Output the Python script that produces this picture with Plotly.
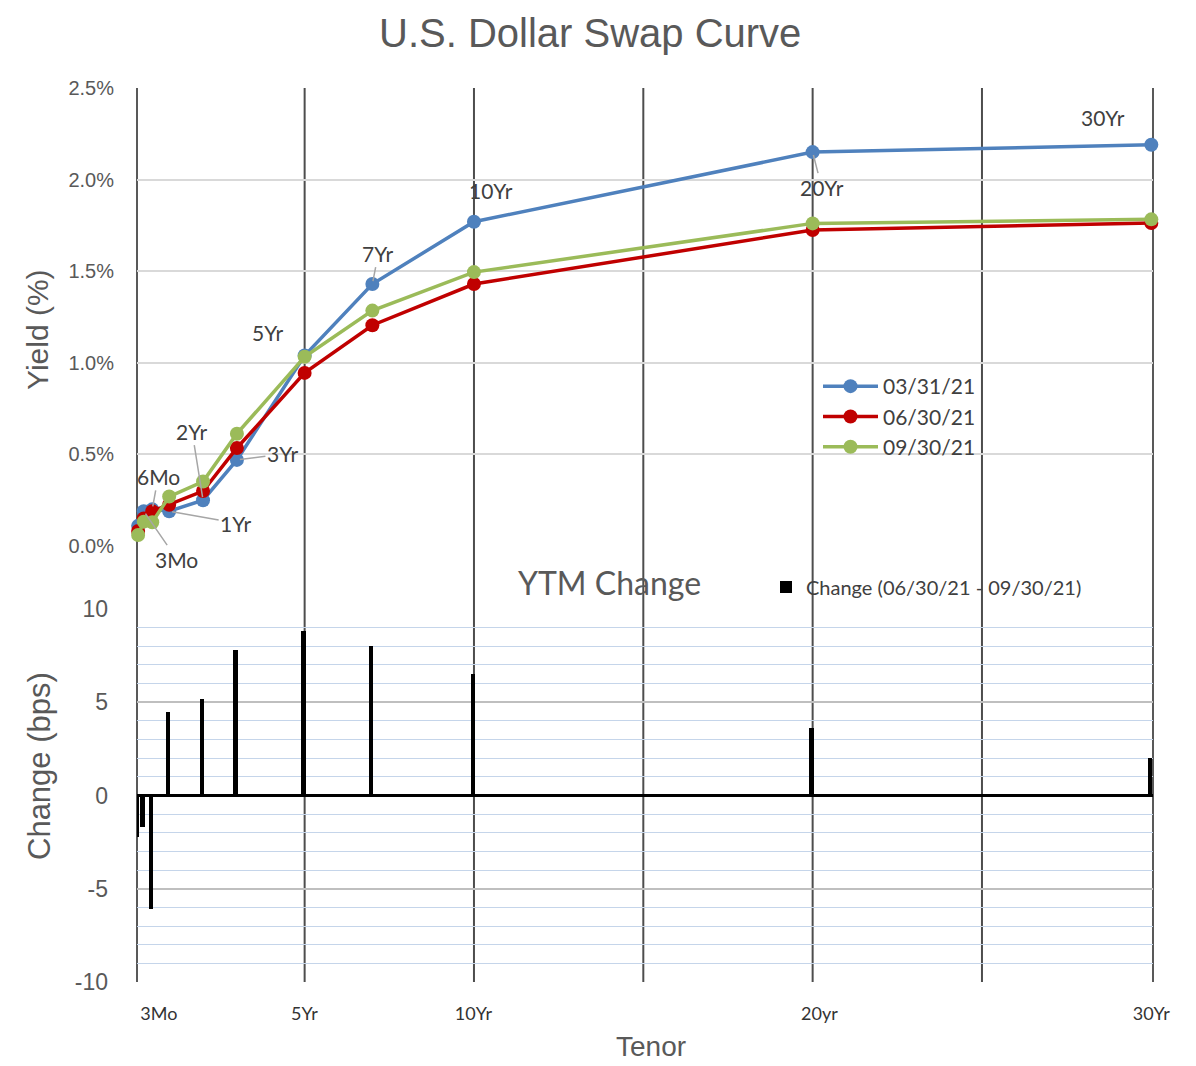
import plotly.graph_objects as go

# ---------------------------------------------------------------- data
tenor_years = [1 / 12, 0.25, 0.5, 1, 2, 3, 5, 7, 10, 20, 30]
tenor_labels = ["1Mo", "3Mo", "6Mo", "1Yr", "2Yr", "3Yr", "5Yr", "7Yr", "10Yr", "20Yr", "30Yr"]

curve_dates = ["03/31/21", "06/30/21", "09/30/21"]
yield_0331 = [0.11, 0.19, 0.20, 0.19, 0.25, 0.47, 1.04, 1.43, 1.77, 2.15, 2.19]
yield_0630 = [0.082, 0.15, 0.19, 0.225, 0.30, 0.535, 0.945, 1.205, 1.43, 1.725, 1.763]
yield_0930 = [0.06, 0.133, 0.13, 0.27, 0.352, 0.613, 1.033, 1.285, 1.495, 1.761, 1.783]

change_name = "Change (06/30/21 - 09/30/21)"
change_bps = [-2.2, -1.7, -6.1, 4.5, 5.2, 7.8, 8.8, 8.0, 6.5, 3.6, 2.0]

bottom_tick_text = ["3Mo", "5Yr", "10Yr", "20yr", "30Yr"]
bottom_tick_vals = [0.73, 5.03, 10.02, 20.24, 30.04]

change_tick_vals = [-10, -5, 0, 5, 10]
change_tick_text = ["-10", "-5", "0", "5", "10"]

# ---------------------------------------------------------------- styling
W, H = 1196, 1066
X_L, X_R = 137, 1153          # plot area, left/right (px)
TOP_T, TOP_B = 88, 546        # yield panel, top/bottom (px)
BOT_T, BOT_B = 609, 982       # change panel, top/bottom (px)

ARIAL = "Liberation Sans, Arial, sans-serif"
CALIBRI = "Lato, Open Sans, sans-serif"
GREY_TXT = "#595959"
DARK_TXT = "#404040"
SERIES_COLORS = ["#4f81bd", "#c00000", "#9bbb59"]

# pixel offsets (label centre relative to its point) for the tenor callouts
label_offsets = {
    "3Mo": (33, 48), "6Mo": (6, -33), "1Yr": (67, 12), "2Yr": (-11, -69),
    "3Yr": (46, -6), "5Yr": (-37, -23), "7Yr": (6, -31), "10Yr": (17, -31),
    "20Yr": (9, 35), "30Yr": (-48, -27),
}
leader_visible = {"3Mo", "6Mo", "1Yr", "2Yr", "3Yr", "7Yr", "20Yr"}


def px(v):
    return v / W


def py(v):
    return 1 - v / H


fig = go.Figure()

for name, ys, col in zip(curve_dates, [yield_0331, yield_0630, yield_0930], SERIES_COLORS):
    fig.add_trace(go.Scatter(
        x=tenor_years, y=ys, name=name, mode="lines+markers",
        line=dict(color=col, width=3.5),
        marker=dict(color=col, size=14),
        cliponaxis=False,
        xaxis="x", yaxis="y", legend="legend",
    ))

fig.add_trace(go.Bar(
    x=tenor_years, y=change_bps, name=change_name, width=0.13,
    marker=dict(color="black", line=dict(width=0)),
    xaxis="x2", yaxis="y2", legend="legend2",
))

# vertical grid lines running through both panels
shapes = []
for v in [5, 10, 15, 20, 25]:
    shapes.append(dict(type="line", xref="x", yref="paper", x0=v, x1=v,
                       y0=py(BOT_B), y1=py(TOP_T),
                       line=dict(color="#4d4d4d", width=2), layer="between"))
for edge in [0, 1]:
    shapes.append(dict(type="line", xref="x domain", yref="paper", x0=edge, x1=edge,
                       y0=py(BOT_B), y1=py(TOP_T),
                       line=dict(color="#595959", width=2), layer="between"))


def text_note(text, x, y, font, angle=0):
    return dict(text=text, x=px(x), y=py(y), xref="paper", yref="paper",
                xanchor="center", yanchor="middle", textangle=angle,
                showarrow=False, font=font)


annotations = [
    text_note("U.S. Dollar Swap Curve", 590, 33, dict(family=ARIAL, size=40, color=GREY_TXT)),
    text_note("Yield (%)", 37, 330, dict(family=ARIAL, size=30, color=GREY_TXT), -90),
    text_note("Change (bps)", 40, 766, dict(family=ARIAL, size=31, color=GREY_TXT), -90),
    text_note("Tenor", 651, 1046, dict(family=ARIAL, size=28, color=GREY_TXT)),
    text_note("YTM Change", 609, 582, dict(family=CALIBRI, size=32, color=GREY_TXT)),
]

for t, lab, yv in zip(tenor_years, tenor_labels, yield_0331):
    if lab not in label_offsets:
        continue
    ax, ay = label_offsets[lab]
    annotations.append(dict(
        text=lab, x=t, y=yv, xref="x", yref="y", ax=ax, ay=ay,
        showarrow=True, arrowhead=0, arrowwidth=1.5, standoff=3,
        arrowcolor="#a6a6a6" if lab in leader_visible else "rgba(0,0,0,0)",
        font=dict(family=CALIBRI, size=21, color=DARK_TXT),
    ))

fig.update_layout(
    width=W, height=H,
    margin=dict(l=0, r=0, t=0, b=0),
    paper_bgcolor="white", plot_bgcolor="rgba(0,0,0,0)",
    showlegend=True, bargap=0,
    xaxis=dict(domain=[px(X_L), px(X_R)], range=[0.05, 30.05], anchor="y",
               showgrid=False, showticklabels=False, zeroline=False, showline=False),
    yaxis=dict(domain=[py(TOP_B), py(TOP_T)], range=[0, 2.5], anchor="x",
               dtick=0.5, tickformat=".1f", ticksuffix="%",
               showgrid=True, gridcolor="#d9d9d9", gridwidth=2,
               zeroline=False, showline=False, automargin=False,
               ticklabelstandoff=22,
               tickfont=dict(family=ARIAL, size=20, color=GREY_TXT)),
    xaxis2=dict(domain=[px(X_L), px(X_R)], range=[0.086, 30.09], anchor="y2",
                tickmode="array", tickvals=bottom_tick_vals, ticktext=bottom_tick_text,
                showgrid=False, zeroline=False, showline=False, ticks="",
                automargin=False, ticklabelstandoff=19,
                tickfont=dict(family=CALIBRI, size=18, color="#333333")),
    yaxis2=dict(domain=[py(BOT_B), py(BOT_T)], range=[-10, 10], anchor="x2",
                tickmode="array", tickvals=change_tick_vals, ticktext=change_tick_text,
                showgrid=True, gridcolor="#bfbfbf", gridwidth=2,
                minor=dict(dtick=1, showgrid=True, gridcolor="#c5d5ea", gridwidth=1),
                zeroline=True, zerolinecolor="black", zerolinewidth=3,
                showline=False, automargin=False, ticklabelstandoff=28,
                tickfont=dict(family=ARIAL, size=23, color=GREY_TXT)),
    legend=dict(x=px(818), y=py(366), xanchor="left", yanchor="top", itemwidth=55,
                bgcolor="rgba(0,0,0,0)", font=dict(family=CALIBRI, size=21, color=DARK_TXT)),
    legend2=dict(x=px(766), y=py(587), xanchor="left", yanchor="middle",
                 bgcolor="rgba(0,0,0,0)", font=dict(family=CALIBRI, size=20, color=DARK_TXT)),
    shapes=shapes,
    annotations=annotations,
)

fig.write_html("out.html")
